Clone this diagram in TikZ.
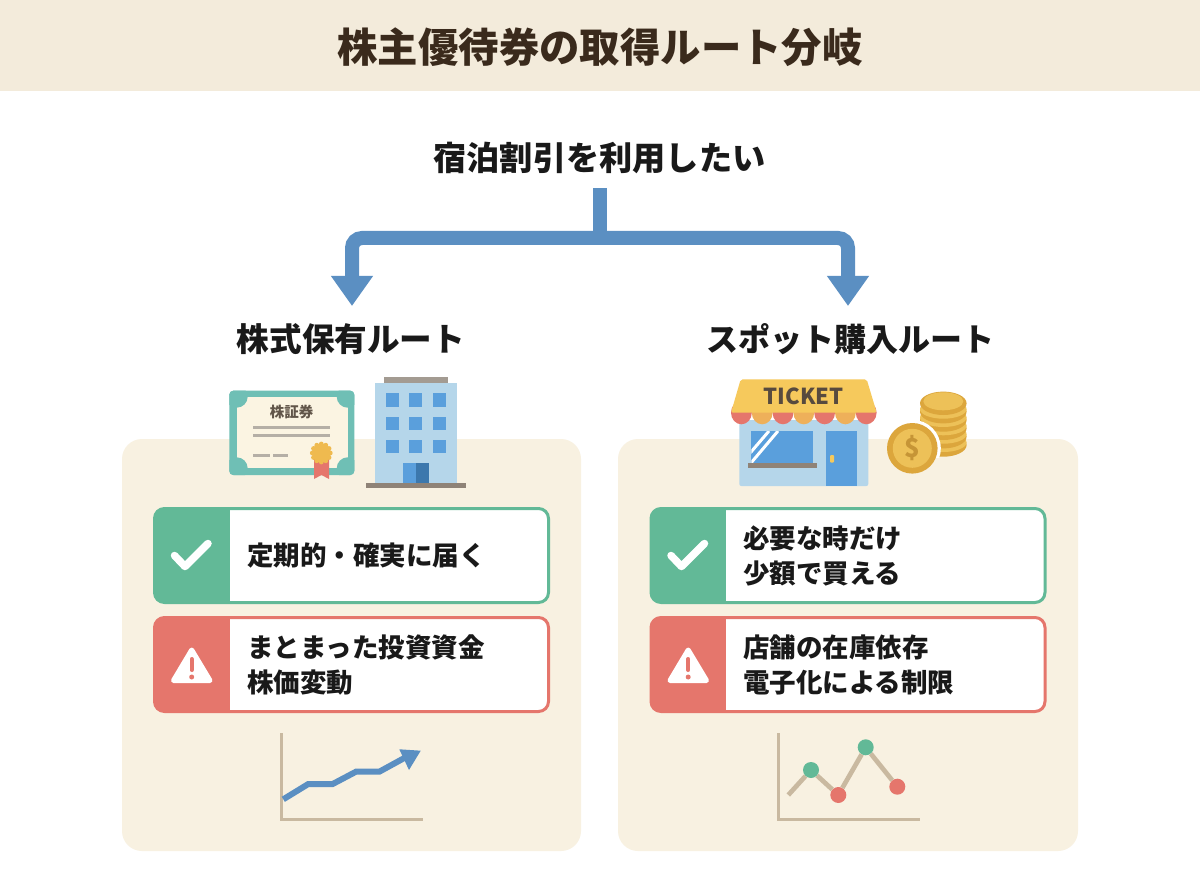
\documentclass[tikz,border=0pt]{standalone}
\usepackage{fontspec}
\setmainfont{Noto Sans CJK JP}
\usetikzlibrary{arrows.meta}
\definecolor{barcream}{HTML}{F3EBDB}
\definecolor{panelcream}{HTML}{F8F1E1}
\definecolor{inkbrown}{HTML}{3A2A1C}
\definecolor{flowblue}{HTML}{5B8FC2}
\definecolor{okgreen}{HTML}{62B997}
\definecolor{warnred}{HTML}{E5766C}
\definecolor{certteal}{HTML}{6FBFB5}
\definecolor{certpaper}{HTML}{FBF4E2}
\definecolor{lightblue}{HTML}{B5D6EA}
\definecolor{winblue}{HTML}{5A9FDC}
\definecolor{doordark}{HTML}{3C78AD}
\definecolor{roofgrey}{HTML}{A39B92}
\definecolor{basegrey}{HTML}{8F8377}
\definecolor{linegrey}{HTML}{B5AFA6}
\definecolor{gold}{HTML}{EDC158}
\definecolor{golddark}{HTML}{DCA63C}
\definecolor{awning}{HTML}{F6C95C}
\definecolor{awningorange}{HTML}{EEB05A}
\definecolor{axistan}{HTML}{C9B9A0}
\begin{document}
\begin{tikzpicture}[x=1pt,y=-1pt]
        \tikzstyle{title}=[font=\fontsize{40.4}{40}\selectfont\bfseries,text=inkbrown]
        \tikzstyle{headline}=[font=\fontsize{33.2}{33}\selectfont\bfseries,text=black!90,inner sep=0pt]
        \tikzstyle{panel}=[fill=panelcream,rounded corners=20pt]
        \tikzstyle{flow}=[draw=flowblue,line width=14pt]
        \tikzstyle{rowbox}=[draw,line width=3pt,fill=white,rounded corners=10pt,minimum width=394pt,minimum height=94pt]
        \tikzstyle{okrow}=[rowbox,draw=okgreen,path picture={\fill[okgreen,sharp corners] (path picture bounding box.north west) rectangle ([xshift=75pt]path picture bounding box.south west);}]
        \tikzstyle{warnrow}=[rowbox,draw=warnred,path picture={\fill[warnred,sharp corners] (path picture bounding box.north west) rectangle ([xshift=75pt]path picture bounding box.south west);}]
        \tikzstyle{rowtext}=[anchor=west,align=left,inner sep=0pt,text=black!90,font=\fontsize{26.5}{35}\selectfont\bfseries]
        \tikzstyle{axis}=[draw=axistan,line width=3.5pt]
        \tikzstyle{dot}=[circle,inner sep=0pt,minimum size=16pt]
        \useasboundingbox (0,0) rectangle (1200,896);
        \fill[white] (0,0) rectangle (1200,896);
        \fill[barcream] (0,0) rectangle (1200,91);
        \node [title] (heading) at (600,47) {株主優待券の取得ルート分岐};

        % branch
        \node [headline,minimum height=60pt] (wish) at (599.5,158) {宿泊割引を利用したい};
        \node [headline,minimum height=66pt,font=\fontsize{32.6}{33}\selectfont\bfseries] (routeA) at (351,339) {株式保有ルート};
        \node [headline,minimum height=66pt,font=\fontsize{32}{32}\selectfont\bfseries] (routeB) at (850,339) {スポット購入ルート};
        \coordinate (fork) at (600,238);
        \coordinate (downA) at (352,306);
        \coordinate (downB) at (848,306);
        \path[flow] (wish.south -| fork) -- (fork);
        \path[flow,rounded corners=10pt,-{Triangle[length=30pt,width=40pt]}] (fork) -| (downA);
        \path[flow,rounded corners=10pt,-{Triangle[length=30pt,width=40pt]}] (fork) -| (downB);

        \fill[panel] (122,439) rectangle (581,851);
        \fill[panel] (618,439) rectangle (1078,851);

        % rows
        \node [okrow] (okA) at (351.5,555.5) {};
        \node [warnrow] (warnA) at (351.5,664.5) {};
        \node [okrow] (okB) at (848,555.5) {};
        \node [warnrow] (warnB) at (848,664.5) {};
        \node [rowtext] (okAtext) at (247,555.5) {定期的・確実に届く};
        \node [rowtext] (warnAtext) at (247,664.5) {まとまった投資資金\\株価変動};
        \node [rowtext] (okBtext) at (743,555.5) {必要な時だけ\\少額で買える};
        \node [rowtext] (warnBtext) at (743,664.5) {店舗の在庫依存\\電子化による制限};
        \foreach \dx in {0,496.5} {
          \begin{scope}[xshift=\dx pt]
            \draw[white,line width=7.5pt,line join=round,line cap=round] (174.5,555.5) -- (185,566.5) -- (208,543.5);
            \fill[white,draw=white,line width=5pt,line join=round] (191.7,650) -- (173.5,680.5) -- (210,680.5) -- cycle;
            \draw[warnred,line width=4pt,line cap=round] (191.7,659) -- (191.7,670);
            \fill[warnred] (191.7,677) circle[radius=2.5pt];
          \end{scope}
        }

        % certificate
        \fill[certteal,rounded corners=4pt] (229.3,390.7) rectangle (354.3,475);
        \begin{scope}
          \clip[rounded corners=4pt] (229.3,390.7) rectangle (354.3,475);
          \fill[certpaper] (236.7,396.7) rectangle (347.7,468.3);
          \foreach \cx in {236.7,347.7} \foreach \cy in {396.7,468.3}
            \fill[certteal] (\cx,\cy) circle[radius=11pt];
        \end{scope}
        \node [font=\fontsize{14.5}{14.5}\selectfont\bfseries,text=inkbrown!80,inner sep=0pt] (stockname) at (291.7,411.7) {株証券};
        \foreach \ly in {427,435.7}
          \draw[linegrey,line width=3pt] (253.3,\ly) -- (330.3,\ly);
        \draw[linegrey,line width=3pt] (253.3,455.7) -- (270,455.7);
        \draw[linegrey,line width=3pt] (273.3,455.7) -- (288.3,455.7);
        \fill[warnred] (314,458) -- (329,458) -- (329,479) -- (321.5,475) -- (314,479) -- cycle;
        \fill[gold!90!orange] (321.3,453) circle[radius=9.5pt];
        \foreach \a in {0,30,...,330}
          \fill[gold!90!orange] (321.3,453) ++(\a:9pt) circle[radius=2.4pt];

        % building
        \fill[lightblue] (375,383.3) rectangle (456.7,483.3);
        \fill[roofgrey] (384,376.7) rectangle (448,383.3);
        \foreach \wx in {385.7,409.3,433} \foreach \wy in {393.3,416.7,439.7}
          \fill[winblue] (\wx,\wy) rectangle ++(13,13.3);
        \fill[winblue] (403.3,463.3) rectangle (415.7,483.3);
        \fill[doordark] (415.7,463.3) rectangle (428.7,483.3);
        \fill[basegrey] (365.7,483) rectangle (466,488.3);

        % shop
        \fill[lightblue,rounded corners=2pt] (739.3,420) rectangle (868.3,486);
        \fill[winblue] (751.3,431) rectangle (813.3,463.3);
        \begin{scope}
          \clip (751.3,431) rectangle (813.3,463.3);
          \draw[white,line width=3pt] (769,431) -- (745,459);
          \draw[white,line width=3pt] (778,431) -- (745,470);
        \end{scope}
        \fill[basegrey] (747.7,462.7) rectangle (817,468.3);
        \fill[winblue] (825.7,431) rectangle (856.7,486);
        \fill[awning,rounded corners=1pt] (830,455) rectangle (834,462.7);
        \foreach \sx/\scol in {741.4/warnred,762.2/awningorange,783/warnred,803.8/awningorange,824.6/warnred,845.4/awningorange,866.2/warnred}
          \fill[\scol] (\sx,412.7) circle[x radius=10.4pt,y radius=11.6pt];
        \fill[awning,rounded corners=2pt] (740.7,379.3) -- (866.7,379.3) -- (876.7,412.7) -- (731,412.7) -- cycle;
        \node [font=\fontsize{22}{22}\selectfont\bfseries,text=inkbrown!85,inner sep=0pt] (ticket) at (803.6,396.7) {TICKET};

        % coins
        \foreach \cy in {445,436.7,428.3,420,411.7} {
          \fill[golddark] (943.3,\cy) circle[x radius=23.3pt,y radius=11.7pt];
          \fill[gold] (943.3,\cy-2.5) circle[x radius=23.3pt,y radius=9.5pt];
        }
        \fill[golddark] (943.3,403.3) circle[x radius=23.3pt,y radius=11.7pt];
        \fill[gold] (943.3,401.3) circle[x radius=20pt,y radius=9pt];
        \begin{scope}
          \clip (918,390) rectangle (967,457);
          \fill[white] (912.3,448.3) circle[radius=28.5pt];
        \end{scope}
        \fill[golddark] (912.3,448.3) circle[radius=25.3pt];
        \fill[gold] (912.3,448.3) circle[radius=19.5pt];
        \node [font=\fontsize{26}{26}\selectfont\bfseries,text=golddark!90!black,inner sep=0pt] (dollar) at (912.3,448.3) {\$};

        % charts
        \draw[axis] (281.7,733) -- (281.7,819.3) -- (423.3,819.3);
        \coordinate (upstart) at (283.3,799.3);
        \coordinate (uptip) at (420.7,750.7);
        \draw[flowblue,line width=6pt] (upstart) -- (308.3,784) -- (332.7,784) -- (356,771.7) -- (379.3,771.7) -- (406.7,756.7);
        \fill[flowblue] (uptip) -- (399.3,749.3) -- (409,770) -- cycle;

        \draw[axis] (778.3,733) -- (778.3,819.3) -- (920,819.3);
        \coordinate (lowstart) at (788.3,795);
        \node [dot,fill=okgreen] (p1) at (811,770) {};
        \node [dot,fill=warnred] (p2) at (838.3,795) {};
        \node [dot,fill=okgreen] (p3) at (865.7,747.3) {};
        \node [dot,fill=warnred] (p4) at (897.3,786.7) {};
        \draw[axis,line width=4.7pt] (lowstart) -- (p1);
        \draw[axis,line width=4.7pt] (p1) -- (p2);
        \draw[axis,line width=4.7pt] (p2) -- (p3);
        \draw[axis,line width=4.7pt] (p3) -- (p4);
      \end{tikzpicture}
\end{document}
